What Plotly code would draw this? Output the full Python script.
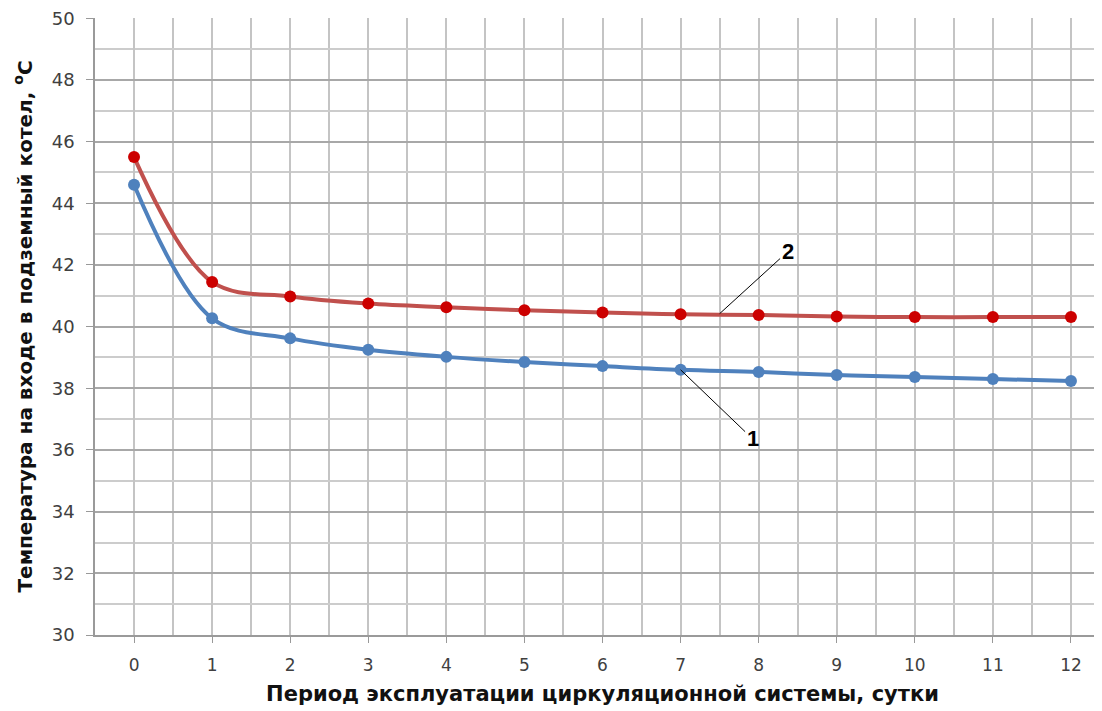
import plotly.graph_objects as go

days = [0, 1, 2, 3, 4, 5, 6, 7, 8, 9, 10, 11, 12]
series1 = [44.6, 40.27, 39.62, 39.25, 39.02, 38.85, 38.72, 38.6, 38.53, 38.43, 38.37, 38.3, 38.24]
series2 = [45.5, 41.45, 40.98, 40.75, 40.63, 40.53, 40.46, 40.4, 40.38, 40.33, 40.31, 40.31, 40.31]
y_ticks = [30, 32, 34, 36, 38, 40, 42, 44, 46, 48, 50]
x_title = "Период эксплуатации циркуляционной системы, сутки"
y_title = "Температура на входе в подземный котел, <sup>o</sup>C"

FONT = "DejaVu Sans"
fig = go.Figure()
fig.add_trace(go.Scatter(
    x=days, y=series1, mode="lines+markers",
    line=dict(color="#4F81BD", width=4, shape="spline", smoothing=1),
    marker=dict(color="#4F81BD", size=12), showlegend=False))
fig.add_trace(go.Scatter(
    x=days, y=series2, mode="lines+markers",
    line=dict(color="#C0504D", width=4, shape="spline", smoothing=1),
    marker=dict(color="#CC0000", size=12), showlegend=False))

fig.add_annotation(x=7.5, y=series2[7] + 0.02, text="<b>2</b>", showarrow=True,
                   arrowhead=0, arrowwidth=1, arrowcolor="black", ax=68, ay=-62,
                   font=dict(family="Liberation Sans", size=22, color="black"))
fig.add_annotation(x=7.0, y=series1[7], text="<b>1</b>", showarrow=True,
                   arrowhead=0, arrowwidth=1, arrowcolor="black", ax=72, ay=69,
                   font=dict(family="Liberation Sans", size=22, color="black"))

fig.update_layout(
    width=1102, height=711,
    margin=dict(l=87, r=0, t=10, b=84, autoexpand=False),
    paper_bgcolor="white", plot_bgcolor="white",
    font=dict(family=FONT, color="#404040"),
    xaxis=dict(range=[-0.5, 12.5], tickmode="array", tickvals=days,
               ticktext=[str(d) for d in days], automargin=False,
               showgrid=True, gridcolor="#C4C4C4", gridwidth=1.5,
               minor=dict(dtick=0.5, tick0=-0.5, showgrid=True, gridcolor="#C4C4C4", gridwidth=1.5),
               ticks="outside", ticklen=6, tickcolor="#999999",
               ticklabelstandoff=8, ticklabeloverflow="allow",
               showline=True, linecolor="#9A9A9A", linewidth=1.5,
               tickfont=dict(size=17, color="#404040"), zeroline=False,
               title=dict(text="<b>" + x_title + "</b>", font=dict(size=21, color="#111111"), standoff=12)),
    yaxis=dict(range=[30, 50.01], tickmode="array", tickvals=y_ticks, automargin=False,
               showgrid=True, gridcolor="#A8A8A8", gridwidth=1.5,
               minor=dict(dtick=1, tick0=30, showgrid=True, gridcolor="#CCCCCC", gridwidth=1.5),
               ticks="outside", ticklen=7, tickcolor="#999999",
               ticklabelstandoff=8, ticklabeloverflow="allow",
               showline=True, linecolor="#9A9A9A", linewidth=1.5,
               tickfont=dict(size=18, color="#404040"), zeroline=False,
               title=dict(text="<b>" + y_title + "</b>", font=dict(size=20, color="#111111"), standoff=14)),
)
fig.write_html("out.html")
